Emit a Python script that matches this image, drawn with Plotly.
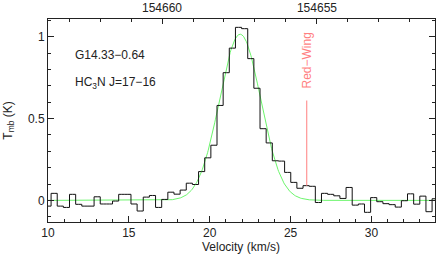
import numpy as np
import plotly.graph_objects as go

# Channel velocities (km/s) and brightness temperatures (K)
v_start = 10.0
v_step = 0.38
tmb = [-0.035, 0.043, -0.035, -0.043, 0.037, -0.024, -0.035, -0.035,
       0.022, -0.022, -0.022, -0.004, 0.037, 0.037, -0.022, -0.065,
       0.020, 0.030, -0.043, 0.006, 0.050, 0.038, 0.063, 0.105,
       0.097, 0.176, 0.260, 0.337, 0.580, 0.780, 0.930, 1.057,
       1.049, 0.866, 0.685, 0.438, 0.351, 0.242, 0.240, 0.171,
       0.110, 0.074, 0.090, 0.086, -0.013, 0.043, 0.037, 0.028,
       0.012, 0.079, -0.029, -0.022, -0.073, 0.017, -0.008, -0.020,
       -0.026, -0.041, -0.002, 0.040, -0.023, 0.026, -0.069, 0.010]
velocity = [round(v_start + i * v_step, 3) for i in range(len(tmb))]

# Gaussian fit parameters
fit_amp = 1.015
fit_center = 21.88
fit_fwhm = 3.0

# Red wing marker
wing_v = 26.0
wing_t = [0.09, 0.61]
wing_label = "Red−Wing"

source = "G14.33−0.64"
line_name = "HC<sub>3</sub>N J=17−16"
x_title = "Velocity (km/s)"
y_title = "T<sub>mb</sub> (K)"

x_range = [10.0, 33.93]
freq_range = [154663.68, 154651.19]
freq_ticks = [154660, 154655]
y_range = [-0.132, 1.108]

font_family = "Liberation Sans, Arial, sans-serif"
ink = "#222222"

vfit = np.linspace(x_range[0], x_range[1], 600)
sig = fit_fwhm / (2 * np.sqrt(2 * np.log(2)))
tfit = fit_amp * np.exp(-0.5 * ((vfit - fit_center) / sig) ** 2)

fig = go.Figure()
fig.add_trace(go.Scatter(x=vfit, y=tfit, mode="lines",
                         line=dict(color="#6cf56c", width=1), hoverinfo="skip"))
fig.add_trace(go.Scatter(x=velocity, y=tmb, mode="lines", line_shape="hvh",
                         line=dict(color="#111111", width=1)))
fig.add_trace(go.Scatter(x=[wing_v, wing_v], y=wing_t, mode="lines",
                         line=dict(color="#ff7f7f", width=1)))
# invisible trace for top axis
fig.add_trace(go.Scatter(x=freq_range, y=[0, 0], xaxis="x2", mode="lines",
                         line=dict(width=0), opacity=0, hoverinfo="skip"))

fig.update_layout(
    width=436, height=254,
    margin=dict(l=48, r=1, t=19, b=32),
    paper_bgcolor="white", plot_bgcolor="white",
    showlegend=False,
    font=dict(family=font_family, size=12, color=ink),
    xaxis=dict(range=x_range, showgrid=False, zeroline=False, automargin=False,
               showline=True, linecolor=ink, linewidth=1, mirror=True,
               ticks="inside", ticklen=6, tickcolor=ink, dtick=5, tick0=0,
               minor=dict(ticks="inside", ticklen=3, dtick=1, tickcolor=ink)),
    xaxis2=dict(range=freq_range, overlaying="x", side="top", showgrid=False,
                zeroline=False, automargin=False,
                ticks="inside", ticklen=5, tickcolor=ink, ticklabelstandoff=4,
                tickvals=freq_ticks, ticktext=[str(f) for f in freq_ticks],
                minor=dict(ticks="inside", ticklen=3, dtick=1, tickcolor=ink),
                tickfont=dict(size=12)),
    yaxis=dict(range=y_range, showgrid=False, zeroline=False, automargin=False,
               showline=True, linecolor=ink, linewidth=1, mirror="ticks",
               ticks="inside", ticklen=6, tickcolor=ink,
               tickvals=[0, 0.5, 1], ticktext=["0", "0.5", "1"],
               minor=dict(ticks="inside", ticklen=3, dtick=0.1, tick0=0, tickcolor=ink)),
    annotations=[
        dict(x=11.55, y=0.89, xref="x", yref="y", text=source, showarrow=False,
             xanchor="left", yanchor="middle", font=dict(size=12, color=ink)),
        dict(x=11.55, y=0.72, xref="x", yref="y", text=line_name, showarrow=False,
             xanchor="left", yanchor="middle", font=dict(size=12, color=ink)),
        dict(x=wing_v, y=0.853, xref="x", yref="y", text=wing_label, showarrow=False,
             textangle=-90, xanchor="center", yanchor="middle",
             font=dict(size=12, color="#ff7f7f")),
        dict(x=0.499, y=-0.123, xref="paper", yref="paper", text=x_title,
             showarrow=False, xanchor="center", yanchor="middle",
             font=dict(size=12, color=ink)),
        dict(x=-0.103, y=0.5, xref="paper", yref="paper", text=y_title,
             showarrow=False, textangle=-90, xanchor="center", yanchor="middle",
             font=dict(size=12, color=ink)),
    ],
)

fig.write_html("out.html", config={"displayModeBar": False},
               post_script="document.body.style.margin='0';document.body.style.overflow='hidden';")
